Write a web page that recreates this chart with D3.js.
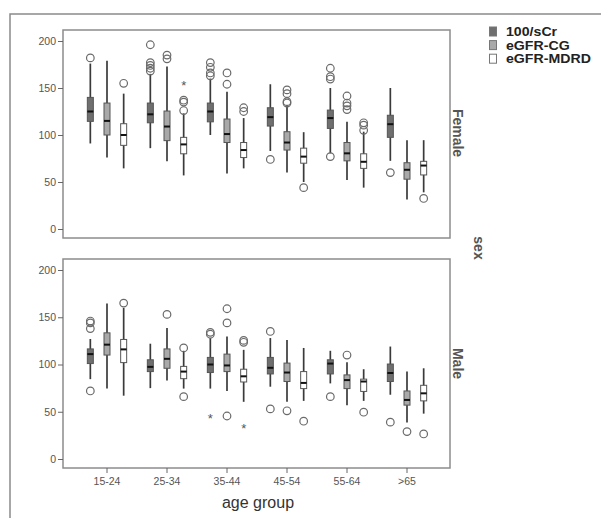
<!DOCTYPE html>
<html>
<head>
<meta charset="utf-8">
<script src="https://cdn.jsdelivr.net/npm/d3@7"></script>
<style>
  body { margin: 0; background: #fff; }
  svg { display: block; font-family: "Liberation Sans", Arial, sans-serif; }
</style>
</head>
<body>
<script>
var ageGroups = ["15-24", "25-34", "35-44", "45-54", "55-64", ">65"];
var methods = ["100/sCr", "eGFR-CG", "eGFR-MDRD"];
var sexes = ["Female", "Male"];
var yTicks = [0, 50, 100, 150, 200];

// [lower whisker, Q1, median, Q3, upper whisker] for each age group
var femaleSCr  = [[91,114.5,125,140,176],[86,113,122,134,165],[100,114,125,134,160],[83,109.5,119,129,154],[80.5,107,118,126.5,150],[72.5,97.5,111.5,121,150]];
var femaleCG   = [[76,100,115,134,179],[72,94,109,125.5,173],[59,92,101,117,146],[60,84,92,103.5,132],[52,72.5,80.5,92,114],[31.5,53,63,70.5,94.5]];
var femaleMDRD = [[64.5,89,100,112,144],[57,80,90,97.5,123],[64.5,76,84,92,118],[50,70,77,86,103],[44,64.5,71.5,80,103.5],[39,57.5,67.5,72,94.5]];
var maleSCr    = [[84.5,101,111,116.5,127],[75,92.5,97.5,105,122],[74.5,91.5,100,107.5,128],[76.5,90,96.5,107.5,128],[80,90,101,105,114.5],[68,82,91,100.5,119]];
var maleCG     = [[74.5,110,121,133.5,164.5],[83,96,106,116.5,138.5],[72,92.5,99,111,129.5],[60.5,82,91.5,101.5,126],[57,74.5,83.5,89,102.5],[38.5,57,62.5,72,92.5]];
var maleMDRD   = [[67,102,116,126.5,160],[74.5,85,92.5,98,114.5],[60.5,81.5,87.5,95,115.5],[61.5,74.5,80.5,92.5,117.5],[61.5,71.5,82,84.5,95],[48,61.5,69.5,78,96]];

// outliers (circles) and extremes (stars) per age group
var femaleSCrOut  = [[182],[196,177,174,171,168],[177,172,166,163],[74],[171,162,159.5,77],[60]];
var femaleCGOut   = [[],[185,181],[166,154],[148,144,135.5,134],[141.5,134,131,127],[]];
var femaleMDRDOut = [[155],[137,135,126],[129,125],[44],[113,110.5,105],[32.5]];
var femaleMDRDExt = [[],[153],[],[],[],[]];
var maleSCrOut    = [[146,144,138,72],[],[134,132],[135,53],[66],[39]];
var maleSCrExt    = [[],[],[43],[],[],[]];
var maleCGOut     = [[],[153],[159,144,45.5],[51],[110],[29]];
var maleMDRDOut   = [[165],[117.5,66],[125.5,123.5],[40],[49.5],[26.5]];
var maleMDRDExt   = [[],[],[33],[],[],[]];
var noneExt       = [[],[],[],[],[],[]];

var colors = {"100/sCr": "#6f6f6f", "eGFR-CG": "#a9a9a9", "eGFR-MDRD": "#ffffff"};

var stats = {
  Female: [femaleSCr, femaleCG, femaleMDRD],
  Male: [maleSCr, maleCG, maleMDRD]
};
var outs = {
  Female: [femaleSCrOut, femaleCGOut, femaleMDRDOut],
  Male: [maleSCrOut, maleCGOut, maleMDRDOut]
};
var exts = {
  Female: [noneExt, noneExt, femaleMDRDExt],
  Male: [maleSCrExt, noneExt, maleMDRDExt]
};

var W = 601, H = 518;
var svg = d3.select("body").append("svg").attr("width", W).attr("height", H);

// outer frame
svg.append("path").attr("d", "M10," + H + "V14H" + W)
  .attr("fill", "none").attr("stroke", "#8a8a8a").attr("stroke-width", 1.5);

var panelL = 63, panelR = 450;
var panels = [{sex: "Female", top: 30, bottom: 238}, {sex: "Male", top: 259, bottom: 468}];

var x = d3.scaleBand().domain(ageGroups).range([77, 437]);
var xs = d3.scaleBand().domain(methods).range([-25, 25]);
var bw = 6;

panels.forEach(function (p, pi) {
  var y = d3.scaleLinear().domain([0, 200]).range([p.bottom - 9, p.top + 11]);
  var g = svg.append("g");

  g.append("rect").attr("x", panelL).attr("y", p.top)
    .attr("width", panelR - panelL).attr("height", p.bottom - p.top)
    .attr("fill", "none").attr("stroke", "#8c8c8c").attr("stroke-width", 1.5);

  var ya = g.append("g").attr("transform", "translate(" + panelL + ",0)")
    .call(d3.axisLeft(y).tickValues(yTicks).tickSize(5).tickPadding(2));
  ya.select(".domain").remove();
  ya.selectAll("line").attr("stroke", "#666");
  ya.selectAll("text").attr("fill", "#555").style("font-size", "10.5px")
    .style("font-family", "Liberation Sans, Arial, sans-serif");

  methods.forEach(function (m, mi) {
    var s = stats[p.sex][mi];
    ageGroups.forEach(function (a, ai) {
      var d = s[ai];
      var cx = x(a) + x.bandwidth() / 2 + xs(m) + xs.bandwidth() / 2;
      g.append("line").attr("x1", cx).attr("x2", cx)
        .attr("y1", y(d[0])).attr("y2", y(d[4]))
        .attr("stroke", "#3a3a3a").attr("stroke-width", 1.7);
      g.append("rect").attr("x", cx - bw / 2).attr("y", y(d[3]))
        .attr("width", bw).attr("height", y(d[1]) - y(d[3]))
        .attr("fill", colors[m]).attr("stroke", "#555").attr("stroke-width", 1);
      g.append("line").attr("x1", cx - bw / 2).attr("x2", cx + bw / 2)
        .attr("y1", y(d[2])).attr("y2", y(d[2]))
        .attr("stroke", "#111").attr("stroke-width", 2);

      outs[p.sex][mi][ai].forEach(function (v) {
        g.append("circle").attr("cx", cx).attr("cy", y(v)).attr("r", 3.8)
          .attr("fill", "none").attr("stroke", "#6a6a6a").attr("stroke-width", 1.2);
      });
      exts[p.sex][mi][ai].forEach(function (v) {
        g.append("text").attr("x", cx).attr("y", y(v) + 5)
          .attr("text-anchor", "middle").attr("fill", "#555")
          .style("font-size", "13px").text("*");
      });
    });
  });

  // row label
  var cy = (p.top + p.bottom) / 2 + (pi === 0 ? -1 : 0);
  svg.append("text").attr("transform", "translate(453," + cy + ") rotate(90)")
    .attr("text-anchor", "middle").attr("fill", "#555")
    .style("font-size", "14px").style("font-weight", "bold").text(p.sex);

  if (pi === 1) {
    var xa = g.append("g").attr("transform", "translate(0," + p.bottom + ")")
      .call(d3.axisBottom(x).tickSize(5).tickPadding(5));
    xa.select(".domain").remove();
    xa.selectAll("line").attr("stroke", "#666");
    xa.selectAll("text").attr("fill", "#555").style("font-size", "10.5px")
      .style("font-family", "Liberation Sans, Arial, sans-serif");
  }
});

svg.append("text").attr("x", 258).attr("y", 508).attr("text-anchor", "middle")
  .attr("fill", "#333").style("font-size", "16px").text("age group");

svg.append("text").attr("transform", "translate(474,248) rotate(90)")
  .attr("text-anchor", "middle").attr("fill", "#555")
  .style("font-size", "14px").style("font-weight", "bold").text("sex");

// legend
var lg = svg.append("g").attr("transform", "translate(489,25)");
methods.forEach(function (m, i) {
  var row = lg.append("g").attr("transform", "translate(0," + (i * 13.6) + ")");
  row.append("rect").attr("x", 0.5).attr("y", 2).attr("width", 7).attr("height", 9)
    .attr("fill", colors[m]).attr("stroke", "#777").attr("stroke-width", 1);
  row.append("text").attr("transform", "translate(17,11) scale(1.18,1)")
    .attr("fill", "#222")
    .style("font-size", "12px").style("font-weight", "bold").text(m);
});
</script>
</body>
</html>
